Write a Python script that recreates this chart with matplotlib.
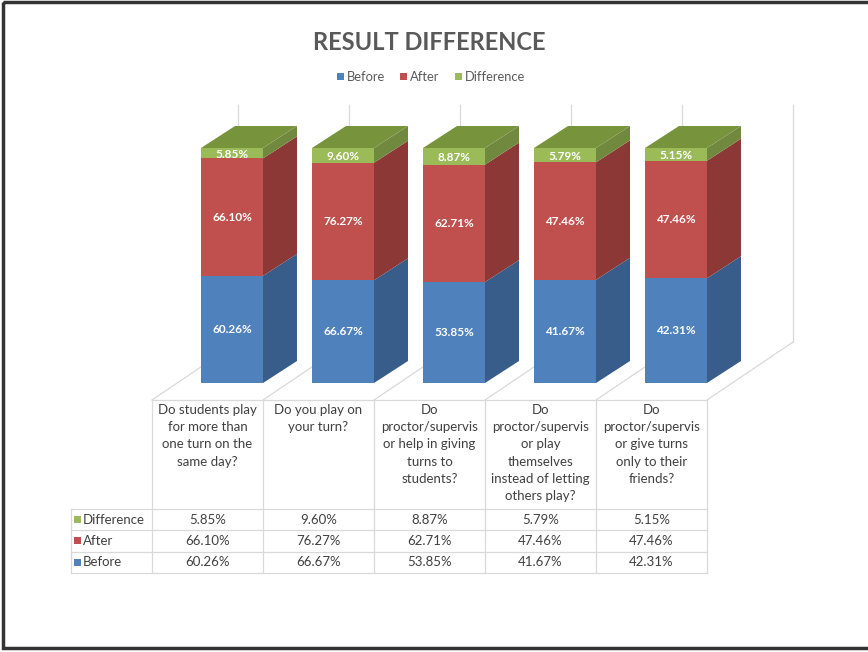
import matplotlib.pyplot as plt
from matplotlib.patches import Polygon, Rectangle
import numpy as np

# chart data
categories = [
    "Do students play\nfor more than\none turn on the\nsame day?",
    "Do you play on\nyour turn?",
    "Do\nproctor/supervis\nor help in giving\nturns to\nstudents?",
    "Do\nproctor/supervis\nor play\nthemselves\ninstead of letting\nothers play?",
    "Do\nproctor/supervis\nor give turns\nonly to their\nfriends?",
]
series_names = ["Before", "After", "Difference"]
before = [60.26, 66.67, 53.85, 41.67, 42.31]
after = [66.10, 76.27, 62.71, 47.46, 47.46]
difference = [5.85, 9.60, 8.87, 5.79, 5.15]

front_cols = ["#4F81BD", "#C0504D", "#9BBB59"]
side_cols = ["#385D8A", "#8C3836", "#71893F"]
top_col = "#77933C"
grid_col = "#D9D9D9"
text_col = "#404040"

plt.rcParams['font.family'] = ['Lato', 'DejaVu Sans']

fig = plt.figure(figsize=(8.68, 6.52), dpi=100)
ax = fig.add_axes([0, 0, 1, 1])
ax.set_xlim(0, 868)
ax.set_ylim(652, 0)
ax.axis('off')

# outer frame
ax.add_patch(Rectangle((3, 2), 880, 646, fill=False, ec="#333333", lw=2.5))

# layout (pixel grid)
tab_left = 152
col_w = 111
n = len(categories)
tab_top = 400
depth_x, depth_y = 86, -58       # floor depth
bar_dx, bar_dy = 34, -22         # bar depth
bar_w = 62
bar_off = 49                     # front-left of bar from column edge
bar_base = 383
bar_h = 235
wall_top = 105

# back wall / floor gridlines
for k in range(n + 1):
    x0 = tab_left + col_w * k
    ax.plot([x0, x0 + depth_x], [tab_top, tab_top + depth_y], color=grid_col, lw=0.9, zorder=1)
    ax.plot([x0 + depth_x] * 2, [tab_top + depth_y, wall_top], color=grid_col, lw=0.9, zorder=1)

# 3D stacked 100% columns
vals = np.array([before, after, difference])
fracs = vals / vals.sum(axis=0)
for i in range(n):
    x0 = tab_left + col_w * i + bar_off
    y = bar_base
    for s in range(3):
        h = fracs[s, i] * bar_h
        yt = y - h
        ax.add_patch(Polygon([(x0 + bar_w, y), (x0 + bar_w + bar_dx, y + bar_dy),
                              (x0 + bar_w + bar_dx, yt + bar_dy), (x0 + bar_w, yt)],
                             closed=True, fc=side_cols[s], ec='none', zorder=3))
        ax.add_patch(Polygon([(x0, y), (x0 + bar_w, y), (x0 + bar_w, yt), (x0, yt)],
                             closed=True, fc=front_cols[s], ec='none', zorder=3))
        ax.text(x0 + bar_w / 2, (y + yt) / 2 + (1 if s == 2 else 0), "%.2f%%" % vals[s, i],
                ha='center', va='center', color='white', fontsize=8.5,
                fontweight='bold', zorder=5)
        y = yt
    ax.add_patch(Polygon([(x0, y), (x0 + bar_w, y), (x0 + bar_w + bar_dx, y + bar_dy),
                          (x0 + bar_dx, y + bar_dy)],
                         closed=True, fc=top_col, ec='none', zorder=3))

# title and legend
ax.text(429, 43, "RESULT DIFFERENCE", ha='center', va='center', fontsize=17,
        fontweight='bold', color="#595959")
leg_x = [337, 400, 455]
for s, name in enumerate(series_names):
    ax.add_patch(Rectangle((leg_x[s], 73), 7, 7, fc=front_cols[s], ec='none'))
    ax.text(leg_x[s] + 10, 77, name, ha='left', va='center', fontsize=9.3, color="#595959")

# data table
row_h = 21.3
hdr_bot = 509
tab_right = tab_left + col_w * n
leg_left = 71
line_kw = dict(color=grid_col, lw=0.9, zorder=2)
ax.plot([tab_left, tab_right], [tab_top, tab_top], **line_kw)
for r in range(4):
    yy = hdr_bot + row_h * r
    ax.plot([leg_left, tab_right], [yy, yy], **line_kw)
for k in range(n + 1):
    xx = tab_left + col_w * k
    ax.plot([xx, xx], [tab_top, hdr_bot + row_h * 3], **line_kw)
ax.plot([leg_left, leg_left], [hdr_bot, hdr_bot + row_h * 3], **line_kw)

for i, cat in enumerate(categories):
    ax.text(tab_left + col_w * (i + 0.5), 404, cat, ha='center', va='top',
            fontsize=9.5, color=text_col, linespacing=1.52)

rows = [(2, difference), (1, after), (0, before)]
for r, (s, data) in enumerate(rows):
    yc = hdr_bot + row_h * (r + 0.5)
    ax.add_patch(Rectangle((leg_left + 3, yc - 3.5), 7, 7, fc=front_cols[s], ec='none'))
    ax.text(leg_left + 12, yc, series_names[s], ha='left', va='center',
            fontsize=9.5, color=text_col)
    for i, v in enumerate(data):
        ax.text(tab_left + col_w * (i + 0.5), yc, "%.2f%%" % v, ha='center',
                va='center', fontsize=9.5, color=text_col)

fig.savefig("out.png", dpi=100)
